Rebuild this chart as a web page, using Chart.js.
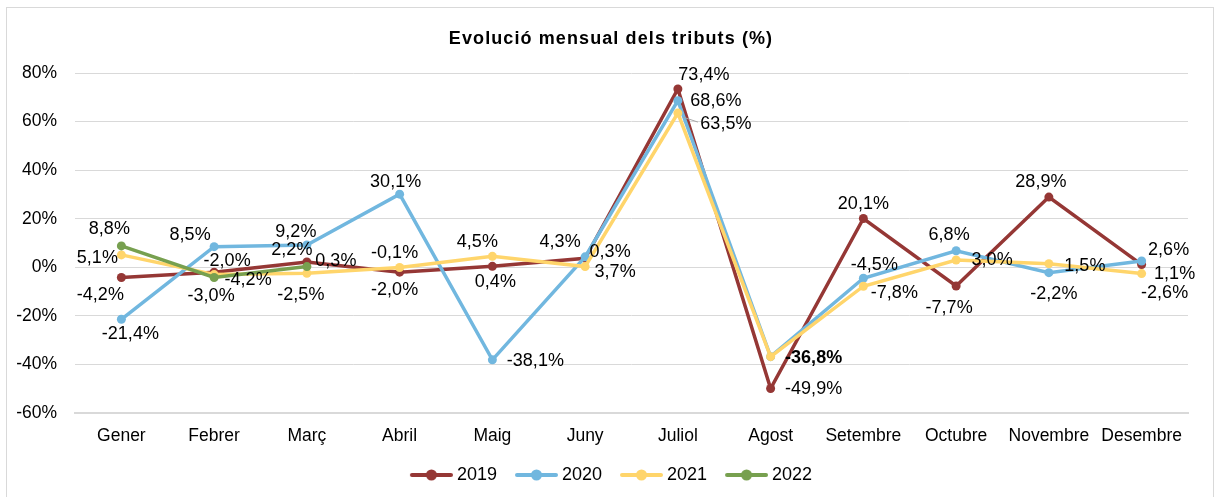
<!DOCTYPE html>
<html>
<head>
<meta charset="utf-8">
<script src="https://cdn.jsdelivr.net/npm/chart.js@4.4.0/dist/chart.umd.min.js"></script>
<style>
html, body { margin: 0; padding: 0; background: #fff; overflow: hidden; }
#frame { position: absolute; left: 6px; top: 7px; width: 1206px; height: 520px; border: 1px solid #d9d9d9; }
#wrap { position: absolute; left: 0; top: 0; width: 1219px; height: 497px; }
</style>
</head>
<body>
<div id="frame"></div>
<div id="wrap"><canvas id="chart"></canvas></div>
<script>
// Dades
var months = ['Gener', 'Febrer', 'Març', 'Abril', 'Maig', 'Juny', 'Juliol', 'Agost', 'Setembre', 'Octubre', 'Novembre', 'Desembre'];
var v2019 = [-4.2, -2.0, 2.2, -2.0, 0.4, 3.7, 73.4, -49.9, 20.1, -7.7, 28.9, 1.1];
var v2020 = [-21.4, 8.5, 9.2, 30.1, -38.1, 4.3, 68.6, -36.8, -4.5, 6.8, -2.2, 2.6];
var v2021 = [5.1, -3.0, -2.5, -0.1, 4.5, 0.3, 63.5, -36.8, -7.8, 3.0, 1.5, -2.6];
var v2022 = [8.8, -4.2, 0.3, null, null, null, null, null, null, null, null, null];
var yTicks = [-60, -40, -20, 0, 20, 40, 60, 80];
var titol = 'Evolució mensual dels tributs (%)';

// Posició de les etiquetes respecte al punt [dx, dy]
var off2019 = [[-21, 18], [13, -11], [-15, -12], [-5, 18], [3, 16], [30, 14], [26, -14], [43, 1], [0, -14], [-7, 22], [-8, -15], [33, 9]];
var off2020 = [[9, 15], [-24, -12], [-11, -13], [-4, -12], [43, 1], [-25, -15], [38, 0], null, [11, -13], [-7, -16], [5, 21], [27, -11]];
var off2021 = [[-24, 3], [-3, 21], [-6, 22], [-5, -14], [-15, -14], [25, -15], [48, 11], [43, 1], [31, 7], [36, 0], [36, 2], [23, 19]];
var off2022 = [[-12, -17], [34, 3], [29, -6]];
var offsets = [off2019, off2020, off2021, off2022];
var boldLabel = {2: 7};
var leaderLine = {2: 6};

var FONT = '"Liberation Sans", Arial, sans-serif';

function fmt(v) {
  return v.toFixed(1).replace('.', ',') + '%';
}

// icona de la llegenda: línia + punt
function legendIcon(color) {
  var c = document.createElement('canvas');
  c.width = 56; c.height = 14;
  var g = c.getContext('2d');
  g.strokeStyle = color;
  g.lineWidth = 4;
  g.lineCap = 'round';
  g.beginPath(); g.moveTo(15, 7); g.lineTo(54, 7); g.stroke();
  g.fillStyle = color;
  g.beginPath(); g.arc(34.5, 7, 5.5, 0, Math.PI * 2); g.fill();
  return c;
}

var titlePlugin = {
  id: 'titolGran',
  afterLayout: function(chart) {
    // centrar la llegenda com a l'original
    chart.legend.left += 8;
    chart.legend.right += 8;
  },
  afterDraw: function(chart) {
    var ctx = chart.ctx;
    ctx.save();
    ctx.font = 'bold 18px ' + FONT;
    ctx.letterSpacing = '1.1px';
    ctx.textAlign = 'center';
    ctx.textBaseline = 'middle';
    ctx.fillStyle = '#000';
    ctx.fillText(titol, 611, 39);
    ctx.restore();
  }
};

var valueLabels = {
  id: 'valueLabels',
  afterDatasetsDraw: function(chart) {
    var ctx = chart.ctx;
    ctx.save();
    ctx.textAlign = 'center';
    ctx.textBaseline = 'middle';
    chart.data.datasets.forEach(function(ds, i) {
      var meta = chart.getDatasetMeta(i);
      meta.data.forEach(function(pt, j) {
        var o = offsets[i][j];
        if (!o || ds.data[j] == null) return;
        if (leaderLine[i] === j) {
          ctx.strokeStyle = '#a6a6a6';
          ctx.lineWidth = 1;
          ctx.beginPath();
          ctx.moveTo(pt.x + 5, pt.y + 4);
          ctx.lineTo(pt.x + 20, pt.y + 9);
          ctx.stroke();
        }
        ctx.fillStyle = '#000';
        ctx.font = (boldLabel[i] === j ? 'bold ' : '') + '18px ' + FONT;
        ctx.fillText(fmt(ds.data[j]), pt.x + o[0], pt.y + o[1]);
      });
    });
    ctx.restore();
  }
};

function serie(label, data, color, order) {
  return {
    label: label, data: data, order: order,
    borderColor: color, backgroundColor: color,
    borderWidth: 3.5, pointRadius: 4.5, pointBackgroundColor: color,
    pointBorderWidth: 0, tension: 0, fill: false
  };
}

var chart = new Chart(document.getElementById('chart'), {
  type: 'line',
  data: {
    labels: months,
    datasets: [
      serie('2019', v2019, '#953735', 4),
      serie('2020', v2020, '#71b7df', 3),
      serie('2021', v2021, '#ffd56b', 2),
      serie('2022', v2022, '#77a04f', 1)
    ]
  },
  plugins: [valueLabels, titlePlugin],
  options: {
    responsive: true,
    maintainAspectRatio: false,
    animation: false,
    events: [],
    layout: { padding: { left: 10, right: 31, top: 73, bottom: 3 } },
    plugins: {
      tooltip: { enabled: false },
      title: { display: false },
      legend: {
        position: 'bottom',
        labels: {
          color: '#000',
          font: { family: FONT, size: 18 },
          usePointStyle: true,
          pointStyleWidth: 46,
          padding: 10,
          generateLabels: function(c) {
            return c.data.datasets.map(function(ds, i) {
              return {
                text: ds.label, datasetIndex: i,
                pointStyle: legendIcon(ds.borderColor),
                fillStyle: ds.borderColor, strokeStyle: ds.borderColor,
                lineWidth: 0, hidden: false, fontColor: '#000'
              };
            });
          }
        }
      }
    },
    scales: {
      x: {
        offset: true,
        afterFit: function(s) { s.height = 43; },
        grid: { display: false, drawTicks: false },
        border: { display: true, color: '#d9d9d9', width: 2 },
        ticks: { color: '#000', padding: 12.5, font: { family: FONT, size: 17.5 }, maxRotation: 0 }
      },
      y: {
        min: -60, max: 80,
        afterFit: function(s) { s.width = 65; },
        afterBuildTicks: function(s) { s.ticks = yTicks.map(function(v) { return { value: v }; }); },
        grid: { color: '#d9d9d9', lineWidth: 1, drawTicks: false },
        border: { display: false },
        ticks: {
          color: '#000', padding: 18,
          font: { family: FONT, size: 17.5 },
          callback: function(v) { return v + '%'; }
        }
      }
    }
  }
});
</script>
</body>
</html>
